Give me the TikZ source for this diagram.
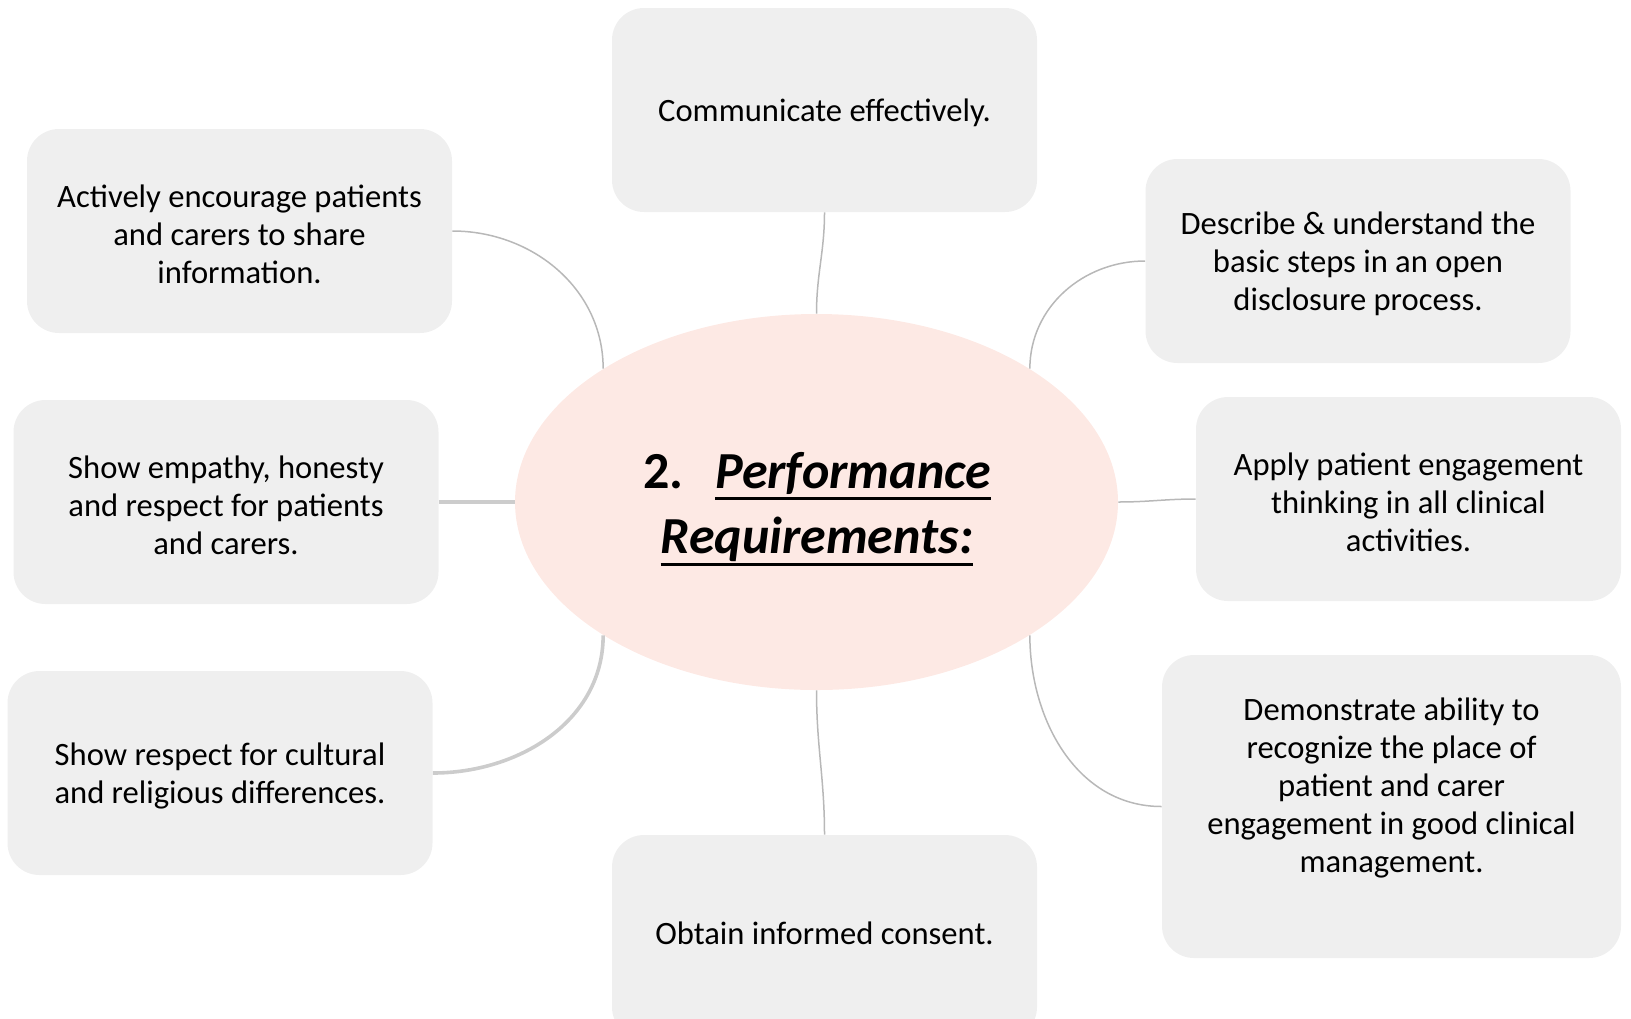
\documentclass[tikz,border=0pt]{standalone}
\usepackage{fontspec}
\setmainfont{Carlito}
\usetikzlibrary{shapes.geometric,calc}
\definecolor{boxgray}{HTML}{EFEFEF}
\definecolor{pinkfill}{HTML}{FDE9E4}
\definecolor{linegray}{HTML}{B8B8B8}
\definecolor{linelight}{HTML}{CCCCCC}
\newsavebox{\ulbox}
\newcommand{\myul}[1]{\sbox{\ulbox}{#1}\rlap{\rule[-6pt]{\wd\ulbox}{1.5pt}}\usebox{\ulbox}}
\begin{document}
\begin{tikzpicture}[x=0.5pt,y=-0.5pt,
  card/.style={fill=boxgray, rounded corners=16pt, minimum width=212.5pt, minimum height=102pt, inner sep=0pt},
  bigcard/.style={card, minimum width=229.5pt, minimum height=151.5pt},
  cardtext/.style={align=center, font=\fontsize{16.3}{19}\selectfont, text=black, inner sep=0pt, yshift=-1.5pt},
  hub/.style={ellipse, fill=pinkfill, minimum width=301.5pt, minimum height=188pt, inner sep=0pt},
  hubtext/.style={align=center, font=\fontsize{26}{32.8}\selectfont\bfseries, text=black, inner sep=0pt},
  link/.style={draw=linegray, line width=0.75pt},
  thicklink/.style={draw=linelight, line width=1.8pt}]
\useasboundingbox (0,0) rectangle (1631,1018);

\node[hub] (e) at (816.5,502) {};
\node[hubtext] (title) at (817,509) {2.\hspace{16pt}\myul{\itshape Performance}\\ \myul{\itshape Requirements:}};

\node[card] (comm) at (824.5,110) {};
\node[cardtext] (commt) at (824.5,110) {Communicate effectively.};

\node[card] (act) at (239.5,231) {};
\node[cardtext] (actt) at (239.5,231) {Actively encourage patients\\ and carers to share\\ information.};

\node[card] (desc) at (1358,261) {};
\node[cardtext] (desct) at (1358,261) {Describe \& understand the\\ basic steps in an open\\ disclosure process.};

\node[card] (emp) at (226,502) {};
\node[cardtext] (empt) at (226,502) {Show empathy, honesty\\ and respect for patients\\ and carers.};

\node[card] (apply) at (1408.5,499) {};
\node[cardtext] (applyt) at (1408.5,499) {Apply patient engagement\\ thinking in all clinical\\ activities.};

\node[card] (resp) at (220,773) {};
\node[cardtext] (respt) at (220,773) {Show respect for cultural\\ and religious differences.};

\node[card] (obt) at (824.5,937) {};
\node[cardtext] (obtt) at (824.5,930) {Obtain informed consent.};

\node[bigcard] (demo) at (1391.5,806.5) {};
\node[cardtext] (demot) at (1391.5,785) {Demonstrate ability to\\ recognize the place of\\ patient and carer\\ engagement in good clinical\\ management.};

\draw[link] (comm.south) to[out=-90,in=90] (e.north);
\draw[link] (act.east) to[out=0,in=90] (e.148);
\draw[link] (desc.west) to[out=180,in=90] (e.32);
\draw[thicklink] (emp.east) -- (e.west);
\draw[link] (e.east) to[out=0,in=180] (apply.west);
\draw[thicklink] (resp.east) to[out=0,in=-90] (e.212);
\draw[link] (e.south) to[out=-90,in=90] (obt.north);
\draw[link] (demo.west) to[out=180,in=-90] (e.328);
\end{tikzpicture}
\end{document}
